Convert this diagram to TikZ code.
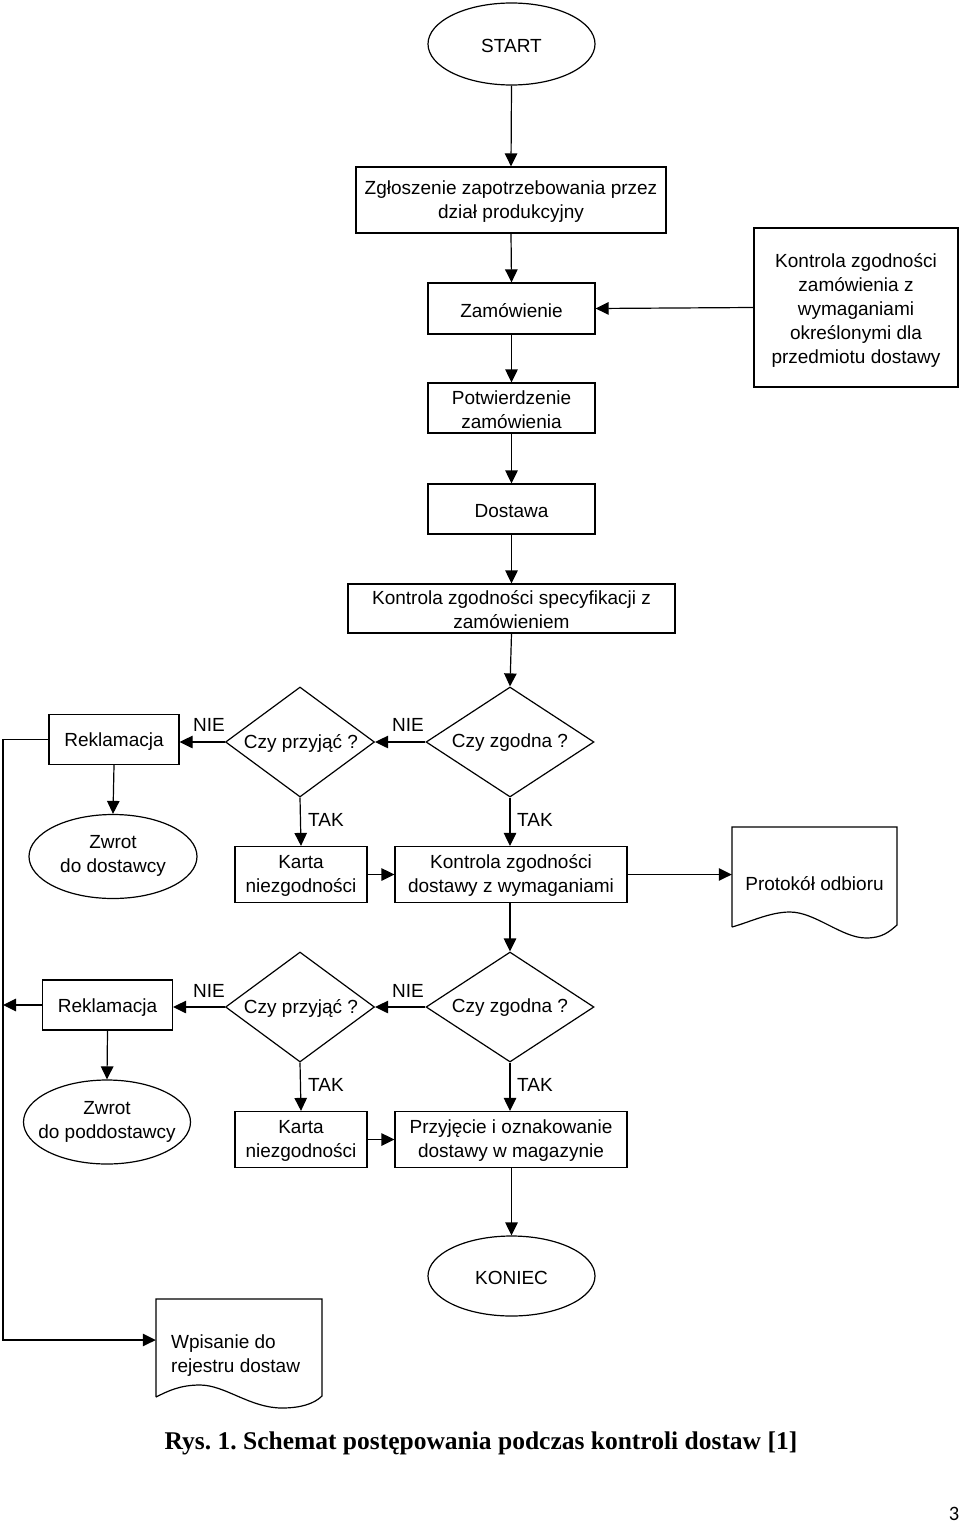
\documentclass[tikz,border=0pt]{standalone}
\usepackage{fontspec}
\setmainfont{Liberation Sans}
\newfontfamily\capfont{Liberation Serif}
\newfontfamily\pgfont{Carlito}
\usetikzlibrary{shapes.geometric,arrows.meta,calc}
\frenchspacing
\begin{document}
\begin{tikzpicture}[x=1pt,y=-1pt,
  every node/.style={font=\fontsize{19}{24}\selectfont},
  box/.style={draw, rectangle, align=center, inner sep=0pt, line width=1.2pt, execute at begin node={\rule{0pt}{18pt}}},
  oval/.style={draw, ellipse, align=center, inner sep=0pt, line width=1.2pt, execute at begin node={\rule{0pt}{18pt}}},
  dia/.style={draw, diamond, inner sep=0pt, line width=1.2pt},
  txt/.style={align=center, inner sep=0pt},
  lbl/.style={inner sep=0pt},
  conn/.style={line width=1.2pt, -{Triangle[length=13pt,width=12.5pt]}},
  plain/.style={line width=1.2pt}
]
\useasboundingbox (0,0) rectangle (960,1525);

% top chain
\node[oval, minimum width=167, minimum height=82] (start) at (511.5,44) {START};
\node[box, minimum width=310, minimum height=66] (zgl) at (511,200) {};
\node[txt] (zglt) at (511,202) {Zgłoszenie zapotrzebowania przez\\dział produkcyjny};
\node[box, minimum width=167, minimum height=51] (zam) at (511.5,308.5) {Zamówienie};
\node[box, minimum width=204, minimum height=159] (kzam) at (856,307.5) {};
\node[txt] (kzamt) at (856,310.5) {Kontrola zgodności\\zamówienia z\\wymaganiami\\określonymi dla\\przedmiotu dostawy};
\node[box, minimum width=167, minimum height=50] (potw) at (511.5,408) {};
\node[txt] (potwt) at (511.5,410) {Potwierdzenie\\zamówienia};
\node[box, minimum width=167, minimum height=50] (dost) at (511.5,509) {Dostawa};
\node[box, minimum width=327, minimum height=49] (kspec) at (511.5,608.5) {};
\node[txt] (kspect) at (511.5,609.5) {Kontrola zgodności specyfikacji z\\zamówieniem};

% row 1
\node[dia, minimum width=168, minimum height=110] (zg1) at (510,742) {};
\node[txt] (zg1t) at (510,743) {Czy zgodna ?};
\node[dia, minimum width=149, minimum height=110] (pr1) at (300,742) {};
\node[txt] (pr1t) at (301,743) {Czy przyjąć ?};
\node[box, minimum width=130, minimum height=50] (rek1) at (114,739.5) {Reklamacja};
\node[oval, minimum width=168, minimum height=84] (zw1) at (113,856.5) {};
\node[txt] (zw1t) at (113,856) {Zwrot\\do dostawcy};
\node[box, minimum width=132, minimum height=56] (kar1) at (301,874.5) {};
\node[txt] (kar1t) at (301,875.5) {Karta\\niezgodności};
\node[box, minimum width=232, minimum height=56] (kd) at (511,874.5) {};
\node[txt] (kdt) at (511,875.5) {Kontrola zgodności\\dostawy z wymaganiami};
\node[minimum width=165, minimum height=100, inner sep=0pt] (prot) at (814.5,877) {};
\node[txt] (prott) at (814.5,884) {Protokół odbioru};
\draw[plain] (732,927) -- (732,827) -- (897,827) -- (897,925)
  .. controls (889,932) and (882,938) .. (866,938)
  .. controls (842,938) and (815,912) .. (790,912)
  .. controls (770,912) and (750,922) .. (732,927);

% row 2
\node[dia, minimum width=168, minimum height=110] (zg2) at (510,1007) {};
\node[txt] (zg2t) at (510,1008) {Czy zgodna ?};
\node[dia, minimum width=149, minimum height=110] (pr2) at (300,1007) {};
\node[txt] (pr2t) at (301,1008) {Czy przyjąć ?};
\node[box, minimum width=130, minimum height=50] (rek2) at (107.5,1005) {Reklamacja};
\node[oval, minimum width=167, minimum height=84] (zw2) at (107,1122) {};
\node[txt] (zw2t) at (107,1122) {Zwrot\\do poddostawcy};
\node[box, minimum width=132, minimum height=56] (kar2) at (301,1139.5) {};
\node[txt] (kar2t) at (301,1141) {Karta\\niezgodności};
\node[box, minimum width=232, minimum height=56] (prz) at (511,1139.5) {};
\node[txt] (przt) at (511,1141) {Przyjęcie i oznakowanie\\dostawy w magazynie};
\node[oval, minimum width=167, minimum height=80] (kon) at (511.5,1276) {KONIEC};
\node[minimum width=166, minimum height=98, inner sep=0pt] (wpis) at (239,1348) {};
\node[txt, align=left, anchor=west] (wpist) at (171,1356) {Wpisanie do\\rejestru dostaw};
\draw[plain] (156,1397) -- (156,1299) -- (322,1299) -- (322,1396)
  .. controls (314,1404) and (300,1408) .. (282,1408)
  .. controls (250,1408) and (225,1385) .. (200,1385)
  .. controls (180,1385) and (168,1391) .. (156,1397);

% labels
\node[lbl] (nie1) at (209,725) {NIE};
\node[lbl] (nie2) at (408,725) {NIE};
\node[lbl] (tak1) at (326,820) {TAK};
\node[lbl] (tak2) at (535,820) {TAK};
\node[lbl] (nie3) at (209,991) {NIE};
\node[lbl] (nie4) at (408,991) {NIE};
\node[lbl] (tak3) at (326,1085) {TAK};
\node[lbl] (tak4) at (535,1085) {TAK};

% connectors
\draw[conn] (start.south) -- (zgl.north);
\draw[conn] (zgl.south) -- (zam.north);
\draw[conn] (kzam.west) -- (zam.east);
\draw[conn] (zam.south) -- (potw.north);
\draw[conn] (potw.south) -- (dost.north);
\draw[conn] (dost.south) -- (kspec.north);
\draw[conn] (kspec.south) -- (zg1.north);
\draw[conn] (zg1.west) -- (pr1.east);
\draw[conn] (pr1.west) -- (pr1.west -| rek1.east);
\draw[conn] (pr1.south) -- (kar1.north);
\draw[conn] (zg1.south) -- (zg1.south |- kd.north);
\draw[conn] (kar1.east) -- (kd.west);
\draw[conn] (kd.east) -- (kd.east -| prot.west);
\draw[conn] (rek1.south) -- (zw1.north);
\draw[conn] (kd.south -| zg2.north) -- (zg2.north);
\draw[conn] (zg2.west) -- (pr2.east);
\draw[conn] (pr2.west) -- (pr2.west -| rek2.east);
\draw[conn] (pr2.south) -- (kar2.north);
\draw[conn] (zg2.south) -- (zg2.south |- prz.north);
\draw[conn] (kar2.east) -- (prz.west);
\draw[conn] (rek2.south) -- (zw2.north);
\draw[conn] (prz.south -| kon.north) -- (kon.north);
\coordinate (la) at (3,739.5);
\coordinate (lb) at (3,1340);
\coordinate (lc) at (3,1005);
\draw[conn] (rek1.west) -- (la) -- (lb) -- (lb -| wpis.west);
\draw[conn] (rek2.west) -- (lc);

% caption and page number
\node[font=\capfont\bfseries\fontsize{25.5}{28}\selectfont, inner sep=0pt] (cap) at (481,1443) {Rys. 1. Schemat postępowania podczas kontroli dostaw [1]};
\node[font=\pgfont\fontsize{20.5}{24}\selectfont, inner sep=0pt] (pg) at (954,1513.5) {3};
\end{tikzpicture}
\end{document}
